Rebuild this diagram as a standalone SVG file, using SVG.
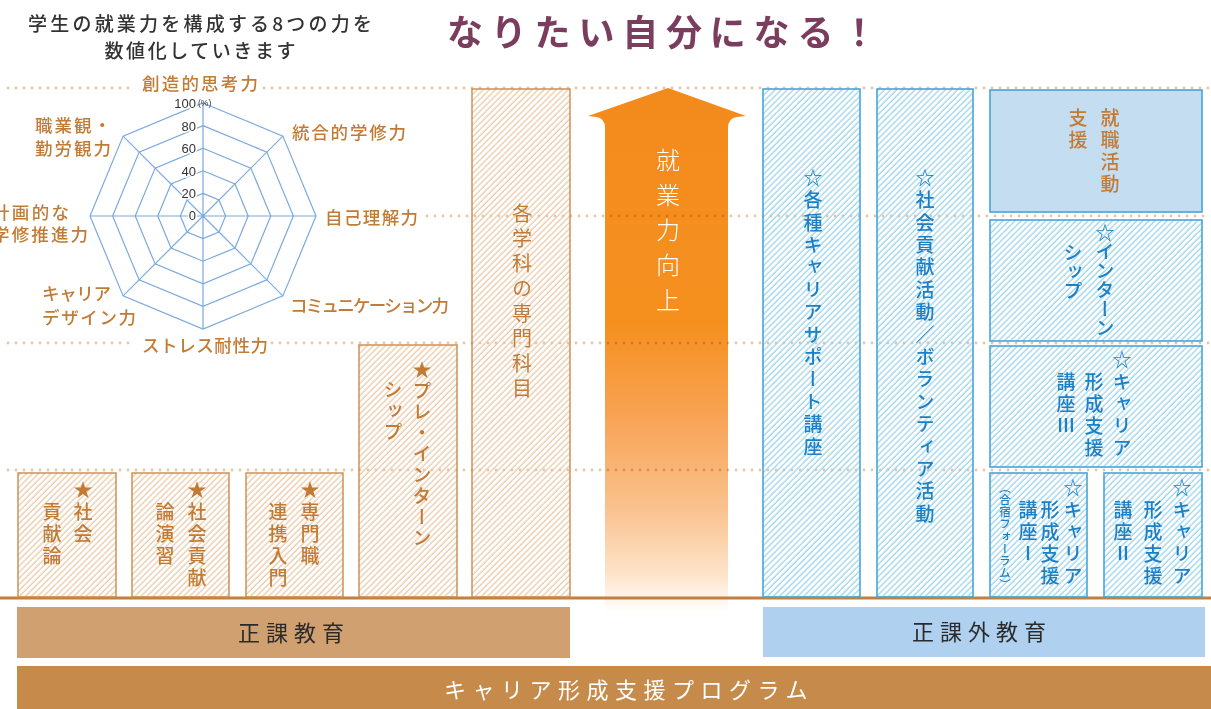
<svg xmlns="http://www.w3.org/2000/svg" width="1211" height="709" viewBox="0 0 1211 709">
<style>
.jp{font-family:"Noto Sans CJK JP","Noto Sans",sans-serif}
.lbl{font-family:"Noto Sans CJK JP",sans-serif;font-size:17.5px;fill:#C27B34;font-weight:500}
.num{font-family:"Liberation Sans",Arial,sans-serif;font-size:13px;fill:#333;stroke:#fff;stroke-width:3;paint-order:stroke;text-anchor:end}
.v{font-family:"Noto Sans CJK JP",sans-serif;writing-mode:vertical-rl;font-size:19px;font-weight:500;letter-spacing:3px}
.br{fill:#C27B34}
.bl{fill:#1B80C8}
.bbox{fill:url(#hb);stroke:#C98A4D;stroke-width:1.4}
.lbox{fill:url(#hl);stroke:#45A6DC;stroke-width:1.6}
.dots{fill:none;stroke:#E8C4A0;stroke-width:2.8;stroke-linecap:round;stroke-dasharray:0 8;mix-blend-mode:multiply}
.radar{fill:none;stroke:#7BA9DD;stroke-width:1.2}
.bar{font-family:"Noto Sans CJK JP",sans-serif;font-size:22px;text-anchor:middle;letter-spacing:6px}
</style>
<defs>
<pattern id="hb" width="4.3" height="10" patternUnits="userSpaceOnUse" patternTransform="rotate(45)">
<line x1="1" y1="0" x2="1" y2="10" stroke="#E9C8A6" stroke-width="1.25"/>
</pattern>
<pattern id="hl" width="4.3" height="10" patternUnits="userSpaceOnUse" patternTransform="rotate(45)">
<line x1="1" y1="0" x2="1" y2="10" stroke="#98D2EA" stroke-width="1.25"/>
</pattern>
<linearGradient id="ag" gradientUnits="userSpaceOnUse" x1="0" y1="88" x2="0" y2="612">
<stop offset="0" stop-color="#F38B1C"/>
<stop offset="0.45" stop-color="#F5901F"/>
<stop offset="0.62" stop-color="#F7A252"/>
<stop offset="0.8" stop-color="#FAC18D"/>
<stop offset="0.93" stop-color="#FDE4CB"/>
<stop offset="1" stop-color="#FFFFFF"/>
</linearGradient>
</defs>
<rect width="1211" height="709" fill="#fff"/>

<!-- headings -->
<g id="subtitle" class="jp" fill="#333" font-size="19" font-weight="500" text-anchor="middle">
<text x="200" y="31" textLength="344" lengthAdjust="spacing">学生の就業力を構成する8つの力を</text>
<text x="200" y="58" textLength="191" lengthAdjust="spacing">数値化していきます</text>
</g>
<g id="title">
<text x="447" y="46" class="jp" font-size="36" font-weight="600" letter-spacing="7.8" fill="#7B3D5E">なりたい自分になる！</text>
</g>

<!-- arrow -->
<g id="arrow">
<path d="M668,88 L746,116 L737,117 Q728,118 728,128 L728,612 L605,612 L605,128 Q605,118 596,117 L588,116 Z" fill="url(#ag)"/>
<text x="668" y="148" class="jp" style="writing-mode:vertical-rl" font-size="24" font-weight="300" letter-spacing="11" fill="#fff">就業力向上</text>
</g>

<!-- connectors / guide lines -->
<g id="connectors">
<line class="dots" x1="8" y1="88" x2="135" y2="88"/>
<line class="dots" x1="264" y1="88" x2="1211" y2="88"/>
<line class="dots" x1="427" y1="216" x2="1211" y2="216"/>
<line class="dots" x1="8" y1="343" x2="135" y2="343"/>
<line class="dots" x1="272" y1="343" x2="1211" y2="343"/>
<line class="dots" x1="8" y1="470" x2="1211" y2="470"/>
<line x1="0" y1="598" x2="1211" y2="598" stroke="#C47F3D" stroke-width="3"/>
</g>

<!-- radar chart -->
<g id="radar">
<polygon class="radar" points="203,103 282.9,136.1 316,216 282.9,295.9 203,329 123.1,295.9 90,216 123.1,136.1"/>
<polygon class="radar" points="203,125.6 266.9,152.1 293.4,216 266.9,279.9 203,306.4 139.1,279.9 112.6,216 139.1,152.1"/>
<polygon class="radar" points="203,148.2 250.9,168.1 270.8,216 250.9,263.9 203,283.8 155.1,263.9 135.2,216 155.1,168.1"/>
<polygon class="radar" points="203,170.8 235,184 248.2,216 235,248 203,261.2 171,248 157.8,216 171,184"/>
<polygon class="radar" points="203,193.4 219,200 225.6,216 219,232 203,238.6 187,232 180.4,216 187,200"/>
<path class="radar" d="M203,216 L203,103 M203,216 L282.9,136.1 M203,216 L316,216 M203,216 L282.9,295.9 M203,216 L203,329 M203,216 L123.1,295.9 M203,216 L90,216 M203,216 L123.1,136.1"/>
<text class="num" x="196" y="108">100</text>
<text x="198" y="106" font-family="Liberation Sans,Arial,sans-serif" font-size="8.5" fill="#333">(%)</text>
<text class="num" x="196" y="131">80</text>
<text class="num" x="196" y="153">60</text>
<text class="num" x="196" y="176">40</text>
<text class="num" x="196" y="198">20</text>
<text class="num" x="196" y="220">0</text>
<text class="lbl" x="200" y="90" text-anchor="middle" textLength="116">創造的思考力</text>
<text class="lbl" x="292" y="139" textLength="114">統合的学修力</text>
<text class="lbl" x="325" y="224" textLength="93">自己理解力</text>
<text class="lbl" x="290" y="312" textLength="159">コミュニケーション力</text>
<text class="lbl" x="205" y="352" text-anchor="middle" textLength="126">ストレス耐性力</text>
<text class="lbl" x="42" y="300" textLength="69">キャリア</text>
<text class="lbl" x="42" y="324" textLength="94">デザイン力</text>
<text class="lbl" x="-8" y="219" textLength="77">計画的な</text>
<text class="lbl" x="-8" y="241" textLength="96">学修推進力</text>
<text class="lbl" x="35" y="132" textLength="76">職業観・</text>
<text class="lbl" x="35" y="155" textLength="76">勤労観力</text>
</g>

<!-- regular curriculum boxes -->
<g id="n-shakaikoken">
<rect class="bbox" x="18" y="473" width="98" height="124"/>
<text class="v br" x="83" y="480">★社会</text>
<text class="v br" x="52" y="502">貢献論</text>
</g>
<g id="n-shakaikoken-enshu">
<rect class="bbox" x="132" y="473" width="97" height="124"/>
<text class="v br" x="197" y="480">★社会貢献</text>
<text class="v br" x="165" y="502">論演習</text>
</g>
<g id="n-senmonshoku">
<rect class="bbox" x="246" y="473" width="97" height="124"/>
<text class="v br" x="310" y="480">★専門職</text>
<text class="v br" x="278" y="502">連携入門</text>
</g>
<g id="n-pre-intern">
<rect class="bbox" x="359" y="345" width="98" height="252"/>
<text class="v br" x="422" y="360" style="letter-spacing:2px">★プレ・インターン</text>
<text class="v br" x="393" y="380" style="letter-spacing:2px">シップ</text>
</g>
<g id="n-senmon-kamoku">
<rect class="bbox" x="472" y="89" width="98" height="508"/>
<text class="v br" x="522" y="203" style="font-size:20px;letter-spacing:5px;font-weight:400">各学科の専門科目</text>
</g>

<!-- extra-curricular boxes -->
<g id="n-career-support">
<rect class="lbox" x="763" y="89" width="97" height="508"/>
<text class="v bl" x="813" y="168" style="letter-spacing:3.4px">☆各種キャリアサポート講座</text>
</g>
<g id="n-volunteer">
<rect class="lbox" x="877" y="89" width="96" height="508"/>
<text class="v bl" x="925" y="168" style="letter-spacing:3.4px">☆社会貢献活動／ボランティア活動</text>
</g>
<g id="n-shushoku">
<rect x="990" y="90" width="212" height="122" fill="#C5DDF0" stroke="#45A6DC" stroke-width="1.6"/>
<text class="v br" x="1110" y="108">就職活動</text>
<text class="v br" x="1078" y="108">支援</text>
</g>
<g id="n-intern">
<rect class="lbox" x="990" y="220" width="212" height="121"/>
<text class="v bl" x="1105" y="223" style="letter-spacing:0px">☆インターン</text>
<text class="v bl" x="1073" y="243" style="letter-spacing:0px">シップ</text>
</g>
<g id="n-career3">
<rect class="lbox" x="990" y="346" width="212" height="121"/>
<text class="v bl" x="1122" y="350">☆キャリア</text>
<text class="v bl" x="1094" y="372">形成支援</text>
<text class="v bl" x="1066" y="372">講座Ⅲ</text>
</g>
<g id="n-career1">
<rect class="lbox" x="990" y="473" width="97" height="124"/>
<text class="v bl" x="1073" y="478">☆キャリア</text>
<text class="v bl" x="1050" y="500">形成支援</text>
<text class="v bl" x="1028" y="500">講座Ⅰ</text>
<text class="v bl" x="1005" y="482" style="font-size:11.5px;letter-spacing:0.6px">（合宿フォーラム）</text>
</g>
<g id="n-career2">
<rect class="lbox" x="1104" y="473" width="98" height="124"/>
<text class="v bl" x="1182" y="478">☆キャリア</text>
<text class="v bl" x="1153" y="500">形成支援</text>
<text class="v bl" x="1123" y="500">講座Ⅱ</text>
</g>

<!-- bottom bars -->
<g id="n-seika">
<rect x="17" y="607" width="553" height="51" fill="#D0A070"/>
<text class="bar" x="294" y="641" fill="#2A2A2A">正課教育</text>
</g>
<g id="n-seikagai">
<rect x="763" y="607" width="442" height="50" fill="#AFD0EE"/>
<text class="bar" x="982" y="640" fill="#2A2A2A">正課外教育</text>
</g>
<g id="n-program">
<rect x="17" y="666" width="1194" height="43" fill="#C68B4A"/>
<text class="bar" x="629" y="698" fill="#fff" style="letter-spacing:6.5px">キャリア形成支援プログラム</text>
</g>
</svg>
